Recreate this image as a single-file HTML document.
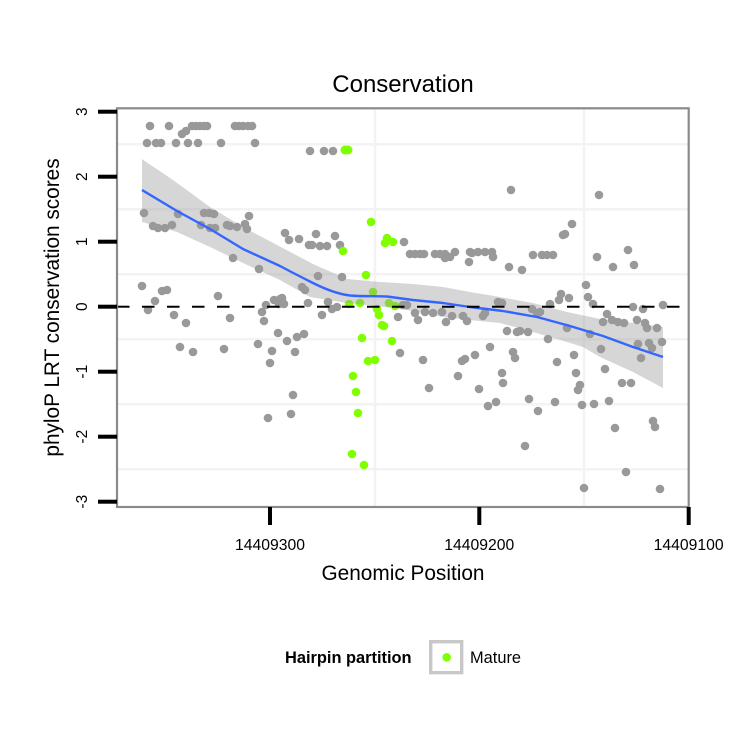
<!DOCTYPE html>
<html><head><meta charset="utf-8"><style>
html,body{margin:0;padding:0;background:#fff;}
svg{display:block;}
text{font-family:"Liberation Sans",Arial,Helvetica,sans-serif;fill:#000;}
</style></head><body>
<svg width="750" height="750" viewBox="0 0 750 750" xmlns="http://www.w3.org/2000/svg">
<rect x="0" y="0" width="750" height="750" fill="#fff"/>
<!-- title -->
<text x="403" y="92" font-size="24" text-anchor="middle">Conservation</text>
<!-- panel background -->
<rect x="117" y="108.3" width="571.7" height="398.7" fill="#fff"/>
<!-- minor gridlines -->
<g stroke="#f3f3f3" stroke-width="2.5">
<line x1="118" x2="688" y1="144.2" y2="144.2"/>
<line x1="118" x2="688" y1="209.2" y2="209.2"/>
<line x1="118" x2="688" y1="274.2" y2="274.2"/>
<line x1="118" x2="688" y1="339.2" y2="339.2"/>
<line x1="118" x2="688" y1="404.2" y2="404.2"/>
<line x1="118" x2="688" y1="469.2" y2="469.2"/>
<line x1="375" x2="375" y1="109" y2="506"/>
<line x1="584" x2="584" y1="109" y2="506"/>
</g>
<!-- gray points -->
<g fill="#999999">
<circle cx="150" cy="126" r="4.3"/><circle cx="169" cy="126" r="4.3"/><circle cx="192" cy="126" r="4.3"/><circle cx="196" cy="126" r="4.3"/><circle cx="200" cy="126" r="4.3"/><circle cx="204" cy="126" r="4.3"/><circle cx="207" cy="126" r="4.3"/><circle cx="235" cy="126" r="4.3"/><circle cx="239" cy="126" r="4.3"/><circle cx="243" cy="126" r="4.3"/><circle cx="248" cy="126" r="4.3"/><circle cx="252" cy="126" r="4.3"/><circle cx="182" cy="134" r="4.3"/><circle cx="186" cy="131" r="4.3"/>
<circle cx="147" cy="143" r="4.3"/><circle cx="156" cy="143" r="4.3"/><circle cx="161" cy="143" r="4.3"/><circle cx="176" cy="143" r="4.3"/><circle cx="188" cy="143" r="4.3"/><circle cx="198" cy="143" r="4.3"/><circle cx="221" cy="143" r="4.3"/><circle cx="255" cy="143" r="4.3"/>
<circle cx="310" cy="151" r="4.3"/><circle cx="324" cy="151" r="4.3"/><circle cx="333" cy="151" r="4.3"/>
<circle cx="511" cy="190" r="4.3"/><circle cx="599" cy="195" r="4.3"/>
<circle cx="144" cy="213" r="4.3"/><circle cx="153" cy="226" r="4.3"/><circle cx="158" cy="228" r="4.3"/><circle cx="165" cy="228" r="4.3"/><circle cx="172" cy="225" r="4.3"/><circle cx="178" cy="214" r="4.3"/><circle cx="201" cy="225" r="4.3"/><circle cx="204" cy="213" r="4.3"/><circle cx="209" cy="213" r="4.3"/><circle cx="214" cy="214" r="4.3"/><circle cx="210" cy="228" r="4.3"/><circle cx="215" cy="228" r="4.3"/><circle cx="227" cy="225" r="4.3"/><circle cx="230" cy="226" r="4.3"/><circle cx="237" cy="227" r="4.3"/><circle cx="245" cy="224" r="4.3"/><circle cx="247" cy="229" r="4.3"/><circle cx="249" cy="216" r="4.3"/><circle cx="233" cy="258" r="4.3"/><circle cx="259" cy="269" r="4.3"/><circle cx="285" cy="233" r="4.3"/><circle cx="289" cy="240" r="4.3"/><circle cx="299" cy="239" r="4.3"/><circle cx="309" cy="245" r="4.3"/>
<circle cx="316" cy="234" r="4.3"/><circle cx="335" cy="236" r="4.3"/><circle cx="312" cy="245" r="4.3"/><circle cx="320" cy="246" r="4.3"/><circle cx="327" cy="246" r="4.3"/><circle cx="340" cy="245" r="4.3"/><circle cx="404" cy="242" r="4.3"/>
<circle cx="410" cy="254" r="4.3"/><circle cx="415" cy="254" r="4.3"/><circle cx="420" cy="254" r="4.3"/><circle cx="424" cy="254" r="4.3"/><circle cx="435" cy="254" r="4.3"/><circle cx="440" cy="254" r="4.3"/><circle cx="445" cy="254" r="4.3"/><circle cx="445" cy="258" r="4.3"/><circle cx="450" cy="257" r="4.3"/><circle cx="455" cy="252" r="4.3"/><circle cx="470" cy="252" r="4.3"/><circle cx="472" cy="253" r="4.3"/><circle cx="469" cy="262" r="4.3"/><circle cx="478" cy="252" r="4.3"/><circle cx="485" cy="252" r="4.3"/><circle cx="492" cy="252" r="4.3"/><circle cx="493" cy="257" r="4.3"/>
<circle cx="533" cy="255" r="4.3"/><circle cx="542" cy="255" r="4.3"/><circle cx="547" cy="255" r="4.3"/><circle cx="553" cy="255" r="4.3"/><circle cx="509" cy="267" r="4.3"/><circle cx="522" cy="270" r="4.3"/><circle cx="597" cy="257" r="4.3"/><circle cx="628" cy="250" r="4.3"/><circle cx="613" cy="267" r="4.3"/><circle cx="634" cy="265" r="4.3"/><circle cx="572" cy="224" r="4.3"/><circle cx="565" cy="234" r="4.3"/><circle cx="563" cy="235" r="4.3"/>
<circle cx="318" cy="276" r="4.3"/><circle cx="342" cy="277" r="4.3"/>
<circle cx="142" cy="286" r="4.3"/><circle cx="155" cy="301" r="4.3"/><circle cx="148" cy="310" r="4.3"/><circle cx="162" cy="291" r="4.3"/><circle cx="167" cy="290" r="4.3"/><circle cx="174" cy="315" r="4.3"/><circle cx="186" cy="323" r="4.3"/><circle cx="218" cy="296" r="4.3"/><circle cx="230" cy="318" r="4.3"/><circle cx="266" cy="305" r="4.3"/><circle cx="274" cy="300" r="4.3"/><circle cx="280" cy="299" r="4.3"/><circle cx="279" cy="304" r="4.3"/><circle cx="284" cy="304" r="4.3"/><circle cx="262" cy="312" r="4.3"/><circle cx="264" cy="321" r="4.3"/><circle cx="302" cy="287" r="4.3"/><circle cx="305" cy="290" r="4.3"/><circle cx="308" cy="303" r="4.3"/><circle cx="282" cy="298" r="4.3"/><circle cx="283" cy="303" r="4.3"/>
<circle cx="328" cy="302" r="4.3"/><circle cx="332" cy="309" r="4.3"/><circle cx="337" cy="307" r="4.3"/><circle cx="322" cy="315" r="4.3"/><circle cx="403" cy="305" r="4.3"/><circle cx="407" cy="305" r="4.3"/><circle cx="398" cy="317" r="4.3"/><circle cx="415" cy="313" r="4.3"/><circle cx="425" cy="312" r="4.3"/><circle cx="433" cy="313" r="4.3"/><circle cx="442" cy="312" r="4.3"/><circle cx="418" cy="320" r="4.3"/><circle cx="446" cy="322" r="4.3"/><circle cx="452" cy="316" r="4.3"/><circle cx="463" cy="316" r="4.3"/><circle cx="467" cy="321" r="4.3"/><circle cx="483" cy="316" r="4.3"/><circle cx="485" cy="313" r="4.3"/><circle cx="498" cy="302" r="4.3"/><circle cx="502" cy="303" r="4.3"/><circle cx="507" cy="331" r="4.3"/>
<circle cx="586" cy="285" r="4.3"/><circle cx="561" cy="294" r="4.3"/><circle cx="559" cy="300" r="4.3"/><circle cx="569" cy="298" r="4.3"/><circle cx="588" cy="297" r="4.3"/><circle cx="593" cy="304" r="4.3"/><circle cx="550" cy="304" r="4.3"/><circle cx="532" cy="309" r="4.3"/><circle cx="540" cy="312" r="4.3"/><circle cx="537" cy="313" r="4.3"/><circle cx="633" cy="307" r="4.3"/><circle cx="643" cy="309" r="4.3"/><circle cx="663" cy="305" r="4.3"/><circle cx="607" cy="314" r="4.3"/><circle cx="603" cy="322" r="4.3"/><circle cx="612" cy="320" r="4.3"/><circle cx="618" cy="322" r="4.3"/><circle cx="624" cy="323" r="4.3"/><circle cx="637" cy="320" r="4.3"/><circle cx="645" cy="323" r="4.3"/><circle cx="647" cy="328" r="4.3"/><circle cx="657" cy="328" r="4.3"/><circle cx="517" cy="332" r="4.3"/><circle cx="520" cy="331" r="4.3"/><circle cx="528" cy="332" r="4.3"/><circle cx="567" cy="328" r="4.3"/><circle cx="590" cy="334" r="4.3"/><circle cx="548" cy="339" r="4.3"/><circle cx="638" cy="344" r="4.3"/><circle cx="649" cy="343" r="4.3"/><circle cx="652" cy="348" r="4.3"/><circle cx="662" cy="342" r="4.3"/><circle cx="601" cy="349" r="4.3"/><circle cx="513" cy="352" r="4.3"/><circle cx="515" cy="358" r="4.3"/><circle cx="574" cy="355" r="4.3"/><circle cx="557" cy="362" r="4.3"/><circle cx="641" cy="358" r="4.3"/><circle cx="605" cy="369" r="4.3"/><circle cx="502" cy="373" r="4.3"/><circle cx="503" cy="383" r="4.3"/><circle cx="576" cy="373" r="4.3"/><circle cx="580" cy="385" r="4.3"/><circle cx="578" cy="390" r="4.3"/><circle cx="622" cy="383" r="4.3"/><circle cx="631" cy="383" r="4.3"/><circle cx="529" cy="399" r="4.3"/><circle cx="555" cy="402" r="4.3"/><circle cx="538" cy="411" r="4.3"/><circle cx="582" cy="405" r="4.3"/><circle cx="594" cy="404" r="4.3"/><circle cx="609" cy="401" r="4.3"/><circle cx="653" cy="421" r="4.3"/><circle cx="655" cy="427" r="4.3"/><circle cx="615" cy="428" r="4.3"/><circle cx="525" cy="446" r="4.3"/><circle cx="626" cy="472" r="4.3"/><circle cx="584" cy="488" r="4.3"/><circle cx="660" cy="489" r="4.3"/>
<circle cx="400" cy="353" r="4.3"/><circle cx="423" cy="360" r="4.3"/><circle cx="462" cy="361" r="4.3"/><circle cx="465" cy="359" r="4.3"/><circle cx="475" cy="355" r="4.3"/><circle cx="490" cy="347" r="4.3"/><circle cx="429" cy="388" r="4.3"/><circle cx="458" cy="376" r="4.3"/><circle cx="479" cy="389" r="4.3"/><circle cx="488" cy="406" r="4.3"/><circle cx="496" cy="402" r="4.3"/>
<circle cx="180" cy="347" r="4.3"/><circle cx="193" cy="352" r="4.3"/><circle cx="224" cy="349" r="4.3"/><circle cx="258" cy="344" r="4.3"/><circle cx="272" cy="351" r="4.3"/><circle cx="295" cy="352" r="4.3"/><circle cx="270" cy="363" r="4.3"/><circle cx="278" cy="333" r="4.3"/><circle cx="287" cy="341" r="4.3"/><circle cx="297" cy="337" r="4.3"/><circle cx="304" cy="334" r="4.3"/><circle cx="293" cy="395" r="4.3"/><circle cx="291" cy="414" r="4.3"/><circle cx="268" cy="418" r="4.3"/>
</g>
<!-- green points -->
<g fill="#7FFF00">
<circle cx="345" cy="150" r="4.5"/><circle cx="348" cy="150" r="4.5"/><circle cx="371" cy="222" r="4.3"/><circle cx="387" cy="238" r="4.3"/><circle cx="385" cy="243" r="4.3"/><circle cx="393" cy="242" r="4.3"/><circle cx="343" cy="251" r="4.3"/><circle cx="366" cy="275" r="4.3"/><circle cx="373" cy="292" r="4.3"/><circle cx="349" cy="304" r="4.3"/><circle cx="360" cy="303" r="4.3"/><circle cx="389" cy="303" r="4.3"/><circle cx="395" cy="306" r="4.3"/><circle cx="377" cy="309" r="4.3"/><circle cx="379" cy="315" r="4.3"/><circle cx="382" cy="325" r="4.3"/><circle cx="384" cy="326" r="4.3"/><circle cx="362" cy="338" r="4.3"/><circle cx="392" cy="341" r="4.3"/><circle cx="368" cy="361" r="4.3"/><circle cx="375" cy="360" r="4.3"/><circle cx="353" cy="376" r="4.3"/><circle cx="356" cy="392" r="4.3"/><circle cx="358" cy="413" r="4.3"/><circle cx="352" cy="454" r="4.3"/><circle cx="364" cy="465" r="4.3"/>
</g>
<!-- ribbon -->
<path fill="#999999" fill-opacity="0.4" d="M142,159 C150,165 160,171 170,178 S195,196 210,207 L243,227 L277,245 L313,264 L347,279 L380,282 L413,284 L443,287 L470,292 L500,297 L533,303 L567,312 L600,319 L633,323 L663,327 L663,388 L633,372 L600,357 L583,347 L567,342 L533,332 L500,323 L470,320 L443,317 L413,311 L377,306 L347,303 L310,297 L280,280 L243,263 L210,247 L177,232 L142,222 Z"/>
<!-- smooth line -->
<path fill="none" stroke="#3366FF" stroke-width="2.4" stroke-linejoin="round" d="M142,190 L177,211 L210,229 L243,249 L280,266 C295,274 305,279 313,283 C325,289 337,294 350,295.5 C362,296.5 375,296 387,296.5 L413,300 L443,303 L470,307 L503,311 L537,317 L570,326 L603,336 L633,347 L663,357"/>
<!-- dashed zero line -->
<line x1="117" x2="688" y1="306.7" y2="306.7" stroke="#000" stroke-width="2" stroke-dasharray="12.5,12.5"/>
<!-- panel border -->
<rect x="117" y="108.3" width="571.7" height="398.7" fill="none" stroke="#8a8a8a" stroke-width="2.2"/>
<!-- y ticks -->
<g fill="#000">
<rect x="98" y="109.7" width="19" height="4"/>
<rect x="98" y="174.7" width="19" height="4"/>
<rect x="98" y="239.7" width="19" height="4"/>
<rect x="98" y="304.7" width="19" height="4"/>
<rect x="98" y="369.7" width="19" height="4"/>
<rect x="98" y="434.7" width="19" height="4"/>
<rect x="98" y="499.7" width="19" height="4"/>
<rect x="268" y="507" width="4" height="18"/>
<rect x="477.3" y="507" width="4" height="18"/>
<rect x="686.7" y="507" width="4" height="18"/>
</g>
<!-- y tick labels -->
<g font-size="15.5" text-anchor="middle">
<text transform="translate(87,111.7) rotate(-90)">3</text>
<text transform="translate(87,176.7) rotate(-90)">2</text>
<text transform="translate(87,241.7) rotate(-90)">1</text>
<text transform="translate(87,306.7) rotate(-90)">0</text>
<text transform="translate(87,371.7) rotate(-90)">-1</text>
<text transform="translate(87,436.7) rotate(-90)">-2</text>
<text transform="translate(87,501.7) rotate(-90)">-3</text>
</g>
<!-- x tick labels -->
<g font-size="15.5" text-anchor="middle">
<text x="270" y="550" textLength="70" lengthAdjust="spacingAndGlyphs">14409300</text>
<text x="479.3" y="550" textLength="70" lengthAdjust="spacingAndGlyphs">14409200</text>
<text x="688.7" y="550" textLength="70" lengthAdjust="spacingAndGlyphs">14409100</text>
</g>
<!-- axis titles -->
<text x="403" y="580" font-size="20.8" text-anchor="middle">Genomic Position</text>
<text transform="translate(59,307.5) rotate(-90)" font-size="20.8" text-anchor="middle">phyloP LRT conservation scores</text>
<!-- legend -->
<text x="285" y="663" font-size="16.4" font-weight="bold">Hairpin partition</text>
<rect x="430.7" y="641.7" width="31" height="31" fill="#fff" stroke="#c8c8c8" stroke-width="3.4"/>
<circle cx="446.7" cy="657.3" r="4.3" fill="#7FFF00"/>
<text x="470" y="663" font-size="16.4">Mature</text>
</svg>
</body></html>
